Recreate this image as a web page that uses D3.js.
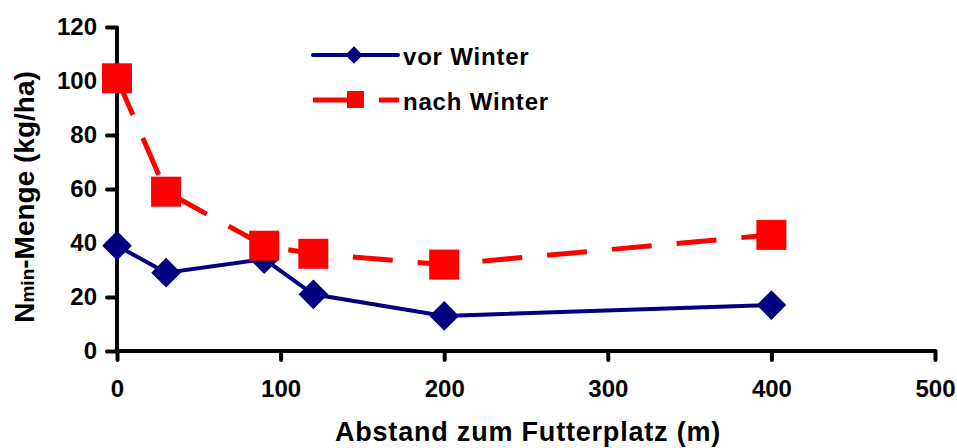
<!DOCTYPE html>
<html lang="de">
<head>
<meta charset="utf-8">
<style>
  body { margin: 0; background: #fff; }
  text { font-family: "Liberation Sans", Arial, sans-serif; font-weight: bold; fill: #000; }
</style>
</head>
<body>
<svg id="chart" width="957" height="448"></svg>
<script src="https://d3js.org/d3.v7.min.js"></script>
<script>
var distances = [0, 30, 90, 120, 200, 400];
var vorWinter = [39, 29, 34, 21, 13, 17];
var nachWinter = [101, 59, 39, 36, 32, 43];
var xTicks = [0, 100, 200, 300, 400, 500];
var yTicks = [0, 20, 40, 60, 80, 100, 120];

var svg = d3.select("#chart");

var x = d3.scaleLinear().domain([0, 500]).range([117, 935]);
var y = d3.scaleLinear().domain([0, 120]).range([351, 27]);

// axes
var xAxis = d3.axisBottom(x).tickValues(xTicks).tickSize(9).tickPadding(20);
var yAxis = d3.axisLeft(y).tickValues(yTicks).tickSize(10).tickPadding(10);

var gx = svg.append("g").attr("transform", "translate(0," + y(0) + ")").call(xAxis);
var gy = svg.append("g").attr("transform", "translate(" + x(0) + ",0)").call(yAxis);

[gx, gy].forEach(function(g) {
  g.select(".domain").attr("stroke", "#000").attr("stroke-width", 4);
  g.selectAll(".tick line").attr("stroke", "#000").attr("stroke-width", 4).attr("stroke-linecap", "round");
  g.selectAll(".tick text").style("font-size", "24px").style("font-weight", "bold")
    .style("font-family", "'Liberation Sans', Arial, sans-serif").attr("fill", "#000");
});
gx.select(".domain").attr("d", "M" + x(0) + ",0H" + x(500));
gy.select(".domain").attr("d", "M0," + y(0) + "V" + y(120));

// titles
svg.append("text").attr("x", 528).attr("y", 441).attr("text-anchor", "middle")
  .style("font-size", "27px").style("letter-spacing", "0.8px").text("Abstand zum Futterplatz (m)");

var yt = svg.append("text").attr("transform", "translate(34,197) rotate(-90)")
  .attr("text-anchor", "middle").style("font-size", "28px");
yt.append("tspan").text("N");
yt.append("tspan").style("font-size", "19px").text("min");
yt.append("tspan").text("-Menge (kg/ha)");

// series
var pts = function(vals) { return distances.map(function(d, i) { return [d, vals[i]]; }); };
var line = d3.line().x(function(d) { return x(d[0]); }).y(function(d) { return y(d[1]); });

svg.append("path").datum(pts(nachWinter)).attr("d", line)
  .attr("fill", "none").attr("stroke", "#ff0000").attr("stroke-width", 5)
  .attr("stroke-dasharray", "40,25");

svg.append("path").datum(pts(vorWinter)).attr("d", line)
  .attr("fill", "none").attr("stroke", "#000080").attr("stroke-width", 4);

var diamond = d3.symbol().type(d3.symbolSquare).size(440);
svg.selectAll(".dia").data(pts(vorWinter)).enter().append("path")
  .attr("d", diamond)
  .attr("transform", function(d) { return "translate(" + x(d[0]) + "," + y(d[1]) + ") rotate(45)"; })
  .attr("fill", "#000080");

svg.selectAll(".sq").data(pts(nachWinter)).enter().append("rect")
  .attr("x", function(d) { return x(d[0]) - 15; })
  .attr("y", function(d) { return y(d[1]) - 15; })
  .attr("width", 30).attr("height", 30).attr("fill", "#ff0000");

// legend
var lg = svg.append("g");
lg.append("line").attr("x1", 313).attr("x2", 398).attr("y1", 55).attr("y2", 55)
  .attr("stroke", "#000080").attr("stroke-width", 4).attr("stroke-linecap", "round");
lg.append("path").attr("d", d3.symbol().type(d3.symbolSquare).size(150))
  .attr("transform", "translate(354,55) rotate(45)").attr("fill", "#000080");
lg.append("text").attr("x", 403).attr("y", 65).style("font-size", "24px")
  .style("letter-spacing", "0.8px").text("vor Winter");

lg.append("line").attr("x1", 313).attr("x2", 362).attr("y1", 100).attr("y2", 100)
  .attr("stroke", "#ff0000").attr("stroke-width", 5);
lg.append("line").attr("x1", 379).attr("x2", 399).attr("y1", 100).attr("y2", 100)
  .attr("stroke", "#ff0000").attr("stroke-width", 5);
lg.append("rect").attr("x", 347).attr("y", 91).attr("width", 17).attr("height", 17).attr("fill", "#ff0000");
lg.append("text").attr("x", 403).attr("y", 110).style("font-size", "24px")
  .style("letter-spacing", "0.8px").text("nach Winter");
</script>
</body>
</html>
